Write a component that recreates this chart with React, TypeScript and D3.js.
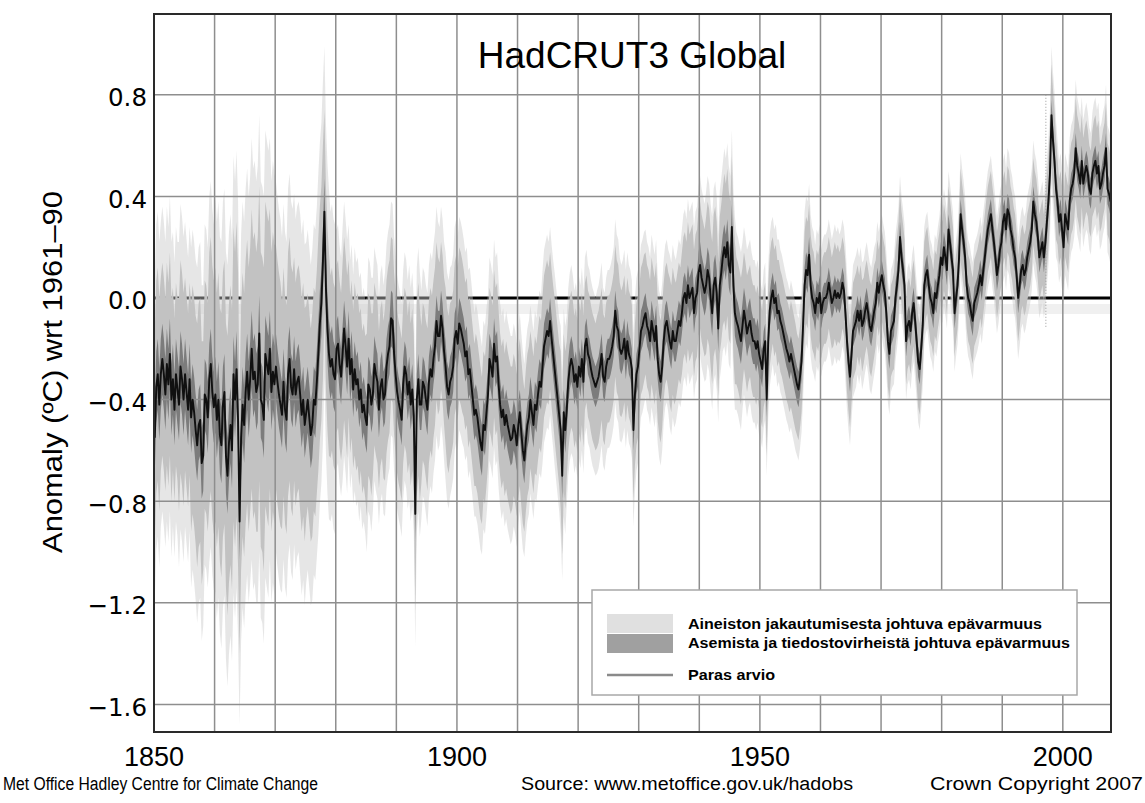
import React from 'react';
import * as d3 from 'd3';

// ---------------- DATA ----------------
const startYear = 1850;

// Best estimate, quarterly means (°C anomaly wrt 1961-90), one row per year
const anomalyQuarterly: number[] = [
  -0.55, -0.35, -0.30, -0.42, // 1850
  -0.30, -0.24, -0.30, -0.38, // 1851
  -0.26, -0.34, -0.22, -0.40, // 1852
  -0.32, -0.44, -0.30, -0.36, // 1853
  -0.42, -0.27, -0.32, -0.40, // 1854
  -0.30, -0.37, -0.44, -0.32, // 1855
  -0.47, -0.40, -0.45, -0.52, // 1856
  -0.58, -0.50, -0.48, -0.65, // 1857
  -0.62, -0.38, -0.40, -0.47, // 1858
  -0.32, -0.26, -0.37, -0.43, // 1859
  -0.38, -0.48, -0.40, -0.54, // 1860
  -0.58, -0.42, -0.37, -0.62, // 1861
  -0.70, -0.57, -0.50, -0.60, // 1862
  -0.30, -0.40, -0.28, -0.48, // 1863
  -0.88, -0.55, -0.42, -0.50, // 1864
  -0.37, -0.29, -0.40, -0.32, // 1865
  -0.20, -0.32, -0.29, -0.37, // 1866
  -0.34, -0.14, -0.40, -0.42, // 1867
  -0.48, -0.22, -0.26, -0.30, // 1868
  -0.20, -0.37, -0.29, -0.34, // 1869
  -0.27, -0.33, -0.38, -0.42, // 1870
  -0.46, -0.33, -0.44, -0.48, // 1871
  -0.30, -0.24, -0.35, -0.38, // 1872
  -0.28, -0.38, -0.33, -0.31, // 1873
  -0.38, -0.46, -0.40, -0.50, // 1874
  -0.45, -0.40, -0.47, -0.54, // 1875
  -0.50, -0.40, -0.42, -0.33, // 1876
  -0.22, -0.10, -0.02, 0.14, // 1877
  0.34, 0.04, -0.12, -0.22, // 1878
  -0.27, -0.24, -0.30, -0.32, // 1879
  -0.20, -0.18, -0.26, -0.31, // 1880
  -0.22, -0.12, -0.19, -0.27, // 1881
  -0.16, -0.30, -0.24, -0.36, // 1882
  -0.28, -0.34, -0.32, -0.40, // 1883
  -0.36, -0.45, -0.42, -0.47, // 1884
  -0.50, -0.34, -0.36, -0.42, // 1885
  -0.38, -0.26, -0.30, -0.33, // 1886
  -0.44, -0.35, -0.32, -0.40, // 1887
  -0.38, -0.27, -0.22, -0.19, // 1888
  -0.08, -0.09, -0.22, -0.30, // 1889
  -0.37, -0.41, -0.44, -0.48, // 1890
  -0.34, -0.27, -0.30, -0.38, // 1891
  -0.33, -0.42, -0.36, -0.46, // 1892
  -0.85, -0.40, -0.32, -0.42, // 1893
  -0.42, -0.33, -0.35, -0.40, // 1894
  -0.44, -0.33, -0.28, -0.31, // 1895
  -0.24, -0.19, -0.09, -0.15, // 1896
  -0.15, -0.07, -0.12, -0.21, // 1897
  -0.27, -0.35, -0.38, -0.33, // 1898
  -0.31, -0.27, -0.16, -0.13, // 1899
  -0.18, -0.10, -0.12, -0.15, // 1900
  -0.18, -0.23, -0.21, -0.30, // 1901
  -0.28, -0.34, -0.40, -0.46, // 1902
  -0.44, -0.47, -0.52, -0.57, // 1903
  -0.60, -0.50, -0.52, -0.45, // 1904
  -0.38, -0.24, -0.27, -0.31, // 1905
  -0.18, -0.25, -0.23, -0.34, // 1906
  -0.42, -0.47, -0.44, -0.50, // 1907
  -0.46, -0.50, -0.53, -0.56, // 1908
  -0.55, -0.50, -0.53, -0.58, // 1909
  -0.50, -0.45, -0.53, -0.60, // 1910
  -0.64, -0.56, -0.50, -0.47, // 1911
  -0.40, -0.45, -0.50, -0.42, // 1912
  -0.44, -0.38, -0.33, -0.35, // 1913
  -0.27, -0.19, -0.16, -0.13, // 1914
  -0.15, -0.09, -0.16, -0.22, // 1915
  -0.28, -0.34, -0.40, -0.46, // 1916
  -0.52, -0.70, -0.45, -0.52, // 1917
  -0.44, -0.33, -0.27, -0.24, // 1918
  -0.27, -0.33, -0.30, -0.35, // 1919
  -0.27, -0.31, -0.24, -0.33, // 1920
  -0.19, -0.16, -0.22, -0.24, // 1921
  -0.28, -0.31, -0.33, -0.35, // 1922
  -0.33, -0.31, -0.27, -0.22, // 1923
  -0.31, -0.33, -0.27, -0.24, // 1924
  -0.24, -0.22, -0.19, -0.15, // 1925
  -0.05, -0.11, -0.13, -0.20, // 1926
  -0.22, -0.20, -0.16, -0.24, // 1927
  -0.17, -0.22, -0.24, -0.28, // 1928
  -0.52, -0.38, -0.30, -0.27, // 1929
  -0.20, -0.13, -0.11, -0.08, // 1930
  -0.06, -0.11, -0.13, -0.17, // 1931
  -0.09, -0.13, -0.17, -0.11, // 1932
  -0.24, -0.30, -0.33, -0.27, // 1933
  -0.17, -0.11, -0.09, -0.13, // 1934
  -0.17, -0.20, -0.13, -0.17, // 1935
  -0.17, -0.13, -0.09, -0.11, // 1936
  -0.06, 0.00, 0.02, -0.02, // 1937
  0.05, 0.00, 0.02, 0.04, // 1938
  -0.06, 0.00, 0.02, 0.10, // 1939
  0.13, 0.08, 0.05, 0.02, // 1940
  0.05, 0.11, 0.08, 0.00, // 1941
  -0.06, 0.05, 0.08, 0.02, // 1942
  -0.12, 0.05, 0.10, 0.16, // 1943
  0.20, 0.16, 0.22, 0.13, // 1944
  0.10, 0.28, 0.05, -0.06, // 1945
  -0.09, -0.11, -0.14, -0.17, // 1946
  -0.11, -0.05, -0.09, -0.14, // 1947
  -0.11, -0.09, -0.14, -0.17, // 1948
  -0.17, -0.20, -0.17, -0.22, // 1949
  -0.25, -0.28, -0.20, -0.17, // 1950
  -0.40, -0.17, -0.05, 0.00, // 1951
  0.03, -0.02, 0.00, -0.06, // 1952
  -0.05, -0.09, -0.11, -0.14, // 1953
  -0.17, -0.20, -0.22, -0.25, // 1954
  -0.22, -0.25, -0.28, -0.31, // 1955
  -0.34, -0.36, -0.31, -0.25, // 1956
  -0.11, 0.05, 0.11, 0.09, // 1957
  0.17, 0.05, 0.00, -0.02, // 1958
  -0.06, 0.00, -0.02, 0.02, // 1959
  -0.06, -0.02, 0.00, 0.00, // 1960
  0.02, 0.06, 0.02, -0.02, // 1961
  0.00, 0.03, 0.00, 0.02, // 1962
  0.00, 0.02, 0.06, 0.03, // 1963
  -0.06, -0.17, -0.25, -0.31, // 1964
  -0.22, -0.13, -0.11, -0.09, // 1965
  -0.05, -0.09, -0.05, -0.11, // 1966
  -0.09, -0.05, -0.02, -0.06, // 1967
  -0.11, -0.13, -0.09, -0.05, // 1968
  -0.02, 0.06, 0.02, 0.06, // 1969
  0.09, 0.05, 0.02, -0.06, // 1970
  -0.17, -0.22, -0.13, -0.11, // 1971
  -0.09, 0.00, 0.05, 0.11, // 1972
  0.24, 0.16, 0.11, 0.05, // 1973
  -0.17, -0.11, -0.09, -0.13, // 1974
  -0.06, -0.02, -0.09, -0.17, // 1975
  -0.25, -0.28, -0.20, -0.11, // 1976
  0.05, 0.09, 0.11, 0.05, // 1977
  0.00, -0.02, -0.06, 0.02, // 1978
  0.00, 0.05, 0.09, 0.16, // 1979
  0.13, 0.20, 0.16, 0.11, // 1980
  0.27, 0.22, 0.16, 0.11, // 1981
  -0.06, 0.00, 0.05, 0.16, // 1982
  0.33, 0.27, 0.22, 0.16, // 1983
  0.05, 0.00, -0.02, -0.06, // 1984
  -0.09, -0.02, 0.00, 0.02, // 1985
  0.05, 0.09, 0.05, 0.11, // 1986
  0.16, 0.22, 0.27, 0.30, // 1987
  0.33, 0.27, 0.22, 0.16, // 1988
  0.09, 0.13, 0.19, 0.22, // 1989
  0.30, 0.33, 0.27, 0.35, // 1990
  0.33, 0.27, 0.24, 0.19, // 1991
  0.16, 0.09, 0.00, 0.05, // 1992
  0.11, 0.13, 0.09, 0.11, // 1993
  0.16, 0.19, 0.22, 0.27, // 1994
  0.38, 0.33, 0.30, 0.24, // 1995
  0.16, 0.19, 0.22, 0.16, // 1996
  0.22, 0.30, 0.38, 0.49, // 1997
  0.72, 0.62, 0.54, 0.43, // 1998
  0.38, 0.30, 0.33, 0.27, // 1999
  0.20, 0.33, 0.30, 0.27, // 2000
  0.38, 0.43, 0.45, 0.49, // 2001
  0.59, 0.52, 0.49, 0.45, // 2002
  0.54, 0.45, 0.49, 0.52, // 2003
  0.49, 0.43, 0.41, 0.49, // 2004
  0.52, 0.54, 0.49, 0.52, // 2005
  0.43, 0.45, 0.49, 0.52, // 2006
  0.59, 0.43, 0.41, 0.38, // 2007
];

// Half-width of the solid part of the light uncertainty envelope, per year
const coverageUncertainty: number[] = [
  0.42, 0.38, 0.40, 0.36, 0.42, 0.38, 0.45, 0.48, 0.45, 0.50, // 1850s
  0.50, 0.52, 0.55, 0.58, 0.52, 0.52, 0.55, 0.58, 0.60, 0.55, // 1860s
  0.48, 0.45, 0.48, 0.44, 0.46, 0.42, 0.44, 0.46, 0.40, 0.36, // 1870s
  0.33, 0.36, 0.31, 0.34, 0.32, 0.36, 0.32, 0.31, 0.34, 0.32, // 1880s
  0.32, 0.31, 0.32, 0.38, 0.31, 0.32, 0.31, 0.29, 0.31, 0.30, // 1890s
  0.30, 0.29, 0.28, 0.30, 0.29, 0.28, 0.29, 0.28, 0.29, 0.28, // 1900s
  0.29, 0.28, 0.27, 0.26, 0.28, 0.27, 0.28, 0.31, 0.27, 0.26, // 1910s
  0.26, 0.25, 0.25, 0.26, 0.25, 0.25, 0.26, 0.25, 0.25, 0.28, // 1920s
  0.25, 0.24, 0.25, 0.24, 0.23, 0.25, 0.23, 0.24, 0.25, 0.25, // 1930s
  0.25, 0.27, 0.28, 0.27, 0.29, 0.28, 0.25, 0.23, 0.22, 0.22, // 1940s
  0.23, 0.22, 0.21, 0.20, 0.20, 0.21, 0.20, 0.21, 0.20, 0.19, // 1950s
  0.18, 0.18, 0.19, 0.18, 0.20, 0.19, 0.18, 0.17, 0.18, 0.17, // 1960s
  0.18, 0.18, 0.19, 0.18, 0.17, 0.17, 0.18, 0.17, 0.17, 0.17, // 1970s
  0.17, 0.17, 0.17, 0.18, 0.17, 0.17, 0.17, 0.17, 0.17, 0.17, // 1980s
  0.17, 0.17, 0.17, 0.16, 0.17, 0.17, 0.17, 0.18, 0.20, 0.17, // 1990s
  0.17, 0.18, 0.20, 0.18, 0.17, 0.18, 0.17, 0.18,             // 2000s
];

// Extent of the sparse outer spikes of the envelope, per decade (°C beyond the solid band)
const spikeExtent: number[] = [
  0.22, 0.28, 0.25, 0.14, 0.14, 0.12, 0.10, 0.10,
  0.09, 0.10, 0.08, 0.07, 0.06, 0.06, 0.07, 0.07,
];

// Half-width of the inner (station & measurement) band, per decade
const stationUncertainty: number[] = [
  0.14, 0.15, 0.13, 0.11, 0.10, 0.10, 0.09, 0.08,
  0.08, 0.09, 0.07, 0.06, 0.06, 0.06, 0.06, 0.06,
];

const xTickYears = [1850, 1900, 1950, 2000];
const xGridYears = [1860, 1870, 1880, 1890, 1900, 1910, 1920, 1930, 1940, 1950, 1960, 1970, 1980, 1990, 2000];
const yTickValues = [0.8, 0.4, 0.0, -0.4, -0.8, -1.2, -1.6];
const yTickLabels = ['0.8', '0.4', '0.0', '\u22120.4', '\u22120.8', '\u22121.2', '\u22121.6'];

const title = 'HadCRUT3 Global';
const yAxisTitle = 'Anomaly (\u00baC) wrt 1961\u201390';
const legendLabels = [
  'Aineiston jakautumisesta johtuva epävarmuus',
  'Asemista ja tiedostovirheistä johtuva epävarmuus',
  'Paras arvio',
];
const footerLeft = 'Met Office Hadley Centre for Climate Change';
const footerMid = 'Source: www.metoffice.gov.uk/hadobs';
const footerRight = 'Crown Copyright 2007';

// ---------------- CHART ----------------
const W = 1145;
const H = 803;
const plot = { left: 154, right: 1111, top: 14, bottom: 732 };

type Pt = { t: number; v: number; u2: number; u1: number; s: number };

export default function App() {
  const x = d3.scaleLinear().domain([1850, 2007.95]).range([plot.left, plot.right]);
  const y = d3.scaleLinear().domain([-1.7087, 1.1181]).range([plot.bottom, plot.top]);

  const pts: Pt[] = anomalyQuarterly.map((v, i) => ({
    t: startYear + (i + 0.5) / 4,
    v,
    u2: coverageUncertainty[Math.floor(i / 4)],
    u1: stationUncertainty[Math.floor(i / 40)],
    s: spikeExtent[Math.floor(i / 40)],
  }));

  const haloArea = d3
    .area<Pt>()
    .x((d) => x(d.t))
    .y0((d) => y(d.v - d.u2 - d.s))
    .y1((d) => y(d.v + d.u2 + d.s));
  const lightArea = d3
    .area<Pt>()
    .x((d) => x(d.t))
    .y0((d) => y(d.v - d.u2))
    .y1((d) => y(d.v + d.u2));
  const darkArea = d3
    .area<Pt>()
    .x((d) => x(d.t))
    .y0((d) => y(d.v - d.u1))
    .y1((d) => y(d.v + d.u1));
  const line = d3
    .line<Pt>()
    .x((d) => x(d.t))
    .y((d) => y(d.v));

  const gridColor = '#8e8e8e';
  const sans = '"Liberation Sans", Arial, Helvetica, sans-serif';
  const dejavu = '"DejaVu Sans", sans-serif';

  return (
    <svg
      width={W}
      height={H}
      viewBox={`0 0 ${W} ${H}`}
      style={{ position: 'absolute', left: 0, top: 0, background: '#fff' }}
    >
      <defs>
        <clipPath id="plotClip">
          <rect x={plot.left} y={plot.top} width={plot.right - plot.left} height={plot.bottom - plot.top} />
        </clipPath>
      </defs>
      <rect x={0} y={0} width={W} height={H} fill="#fff" />

      {/* faint band just under zero */}
      <rect x={plot.left} y={y(0) + 6} width={plot.right - plot.left} height={10} fill="#f0f0f0" />

      {/* zero line (beneath data) */}
      <line x1={plot.left} x2={plot.right} y1={y(0)} y2={y(0)} stroke="#000" strokeWidth={3} />

      <g clipPath="url(#plotClip)">
        <path d={haloArea(pts) || ''} fill="#c8c8c8" fillOpacity={0.45} />
        <path d={lightArea(pts) || ''} fill="#c2c2c2" />
        <path d={darkArea(pts) || ''} fill="#7c7c7c" />
      </g>

      {/* grid */}
      <g>
        {xGridYears.map((yr) => (
          <line key={'vx' + yr} x1={x(yr)} x2={x(yr)} y1={plot.top} y2={plot.bottom} stroke={gridColor} strokeWidth={1.5} />
        ))}
        {yTickValues
          .filter((v) => v !== 0)
          .map((v) => (
            <line key={'hy' + v} x1={plot.left} x2={plot.right} y1={y(v)} y2={y(v)} stroke={gridColor} strokeWidth={1.5} />
          ))}
      </g>

      {/* dotted marker line */}
      <line x1={x(1997.2)} x2={x(1997.2)} y1={y(0.8)} y2={y(-0.12)} stroke="#9a9a9a" strokeWidth={1} strokeDasharray="1,2" />

      <g clipPath="url(#plotClip)">
        <path d={line(pts) || ''} fill="none" stroke="#101010" strokeWidth={1.9} strokeLinejoin="round" />
      </g>

      {/* plot frame */}
      <rect
        x={plot.left}
        y={plot.top}
        width={plot.right - plot.left}
        height={plot.bottom - plot.top}
        fill="none"
        stroke="#2a2a2a"
        strokeWidth={2}
      />

      {/* title */}
      <text x={632} y={68} textAnchor="middle" fontFamily={sans} fontSize={37} fill="#000">
        {title}
      </text>

      {/* y ticks */}
      {yTickValues.map((v, i) => (
        <text key={'yt' + v} x={147} y={y(v) + 11.5} textAnchor="end" fontFamily={dejavu} fontSize={24.5} fill="#000">
          {yTickLabels[i]}
        </text>
      ))}

      {/* x ticks */}
      {xTickYears.map((yr) => (
        <text key={'xt' + yr} x={x(yr)} y={766} textAnchor="middle" fontFamily={sans} fontSize={27} fill="#000">
          {yr}
        </text>
      ))}

      {/* y axis title */}
      <text
        transform="translate(62,372) rotate(-90)"
        textAnchor="middle"
        fontFamily={sans}
        fontSize={27}
        textLength={362}
        lengthAdjust="spacingAndGlyphs"
        fill="#000"
      >
        {yAxisTitle}
      </text>

      {/* legend */}
      <g>
        <rect x={592} y={590} width={485} height={105} fill="#fff" stroke="#a8a8a8" strokeWidth={1.5} />
        <rect x={607} y={614} width={66} height={19} fill="#e0e0e0" />
        <rect x={607} y={634} width={66} height={19} fill="#a0a0a0" />
        <line x1={607} x2={673} y1={675} y2={675} stroke="#8a8a8a" strokeWidth={2.5} />
        <text x={688} y={629} fontFamily={sans} fontWeight="bold" fontSize={14} textLength={354} lengthAdjust="spacingAndGlyphs">
          {legendLabels[0]}
        </text>
        <text x={688} y={648} fontFamily={sans} fontWeight="bold" fontSize={14} textLength={382} lengthAdjust="spacingAndGlyphs">
          {legendLabels[1]}
        </text>
        <text x={688} y={680} fontFamily={sans} fontWeight="bold" fontSize={14} textLength={87} lengthAdjust="spacingAndGlyphs">
          {legendLabels[2]}
        </text>
      </g>

      {/* footer */}
      <text x={3} y={790} fontFamily={sans} fontSize={18} textLength={315} lengthAdjust="spacingAndGlyphs">
        {footerLeft}
      </text>
      <text x={521} y={790} fontFamily={sans} fontSize={18} textLength={332} lengthAdjust="spacingAndGlyphs">
        {footerMid}
      </text>
      <text x={930} y={790} fontFamily={sans} fontSize={18} textLength={213} lengthAdjust="spacingAndGlyphs">
        {footerRight}
      </text>
    </svg>
  );
}
